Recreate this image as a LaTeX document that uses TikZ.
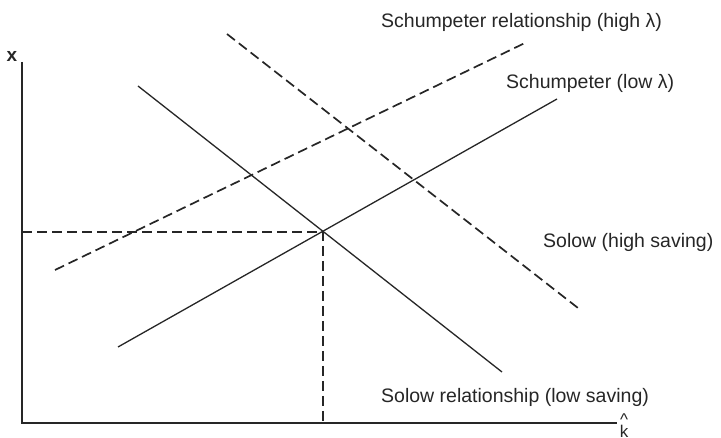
\documentclass[tikz,border=0pt]{standalone}
\usepackage{fontspec}
\setmainfont{Liberation Sans}
\begin{document}
\begin{tikzpicture}[x=1pt,y=-1pt,
  curve/.style={line width=1.3pt,black!85},
  dcurve/.style={line width=1.7pt,black!85,dash pattern=on 10pt off 5pt},
  axis/.style={line width=1.3pt,black!85},
  lbl/.style={font=\fontsize{19.5}{22}\selectfont,inner sep=0pt,anchor=west,text=black!85}]
\useasboundingbox (0,0) rectangle (721,438);
% axes
\coordinate (O) at (22,423);
\coordinate (ytop) at (22,62);
\coordinate (xend) at (617,423);
\draw[axis] (ytop) -- (O) -- (xend);
\node[font=\fontsize{19}{22}\selectfont\bfseries,inner sep=0pt,text=black!85] (xl) at (12,56) {x};
\node[font=\fontsize{17}{20}\selectfont,inner sep=0pt,anchor=north,text=black!85] (hat) at (624,414) {\textasciicircum};
\node[font=\fontsize{17}{20}\selectfont,inner sep=0pt,anchor=north,text=black!85] (kl) at (624,425) {k};
% intersection
\coordinate (E) at (323,232);
\coordinate (Ey) at (22,232);
\coordinate (Ex) at (323,423);
\draw[dcurve] (Ey) -- (E) -- (Ex);
% Schumpeter low (solid)
\coordinate (sl1) at (118,347);
\coordinate (sl2) at (557,99);
\draw[curve] (sl1) -- (sl2);
% Solow low (solid)
\coordinate (wl1) at (138,86);
\coordinate (wl2) at (502,372);
\draw[curve] (wl1) -- (wl2);
% Schumpeter high (dashed)
\coordinate (sh1) at (55,270);
\coordinate (sh2) at (527,42);
\draw[dcurve] (sh1) -- (sh2);
% Solow high (dashed)
\coordinate (wh1) at (227,34);
\coordinate (wh2) at (578,308);
\draw[dcurve] (wh1) -- (wh2);
% labels
\node[lbl] (t1) at (381,22) {Schumpeter relationship (high λ)};
\node[lbl] (t2) at (506,83) {Schumpeter (low λ)};
\node[lbl] (t3) at (543,242) {Solow (high saving)};
\node[lbl] (t4) at (381,397) {Solow relationship (low saving)};
\end{tikzpicture}
\end{document}
